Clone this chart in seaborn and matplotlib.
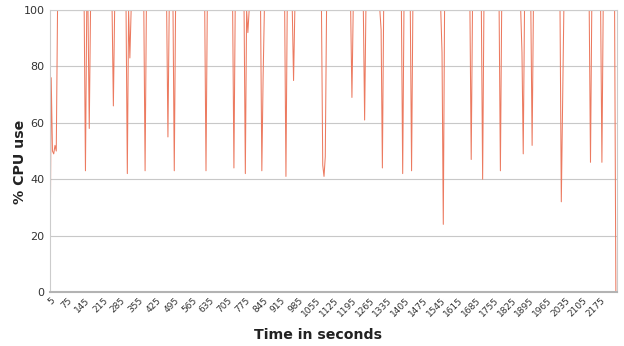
import numpy as np
import pandas as pd
import matplotlib
matplotlib.use("Agg")
import matplotlib.pyplot as plt
import seaborn as sns

# Sampling: one reading every 5 seconds
t_start, t_end, t_step = 5, 2235, 5
baseline = 100  # CPU sits at 100 % except for the dips below

# Readings that differ from 100 % (time in s, % CPU)
dip_times = [5, 10, 15, 20, 25, 30,
             145, 160, 255, 310, 320, 380, 470, 495, 620, 730,
             775, 785, 840, 845, 935, 965, 1080, 1085, 1090, 1195, 1245,
             1310, 1315, 1395, 1430, 1550, 1555, 1665, 1710, 1780, 1865,
             1870, 1905, 2020, 2025, 2135, 2180, 2235]
dip_values = [0, 76, 50, 49, 52, 50,
              43, 58, 66, 42, 83, 43, 55, 43, 43, 44,
              42, 92, 43, 76, 41, 75, 45, 41, 48, 69, 61,
              93, 44, 42, 43, 85, 24, 47, 40, 43, 85,
              49, 52, 32, 65, 46, 46, 0]

x_ticks = list(range(5, 2176, 70))
y_ticks = [0, 20, 40, 60, 80, 100]

times = np.arange(t_start, t_end + 1, t_step)
cpu = np.full(times.shape, float(baseline))
for tt, vv in zip(dip_times, dip_values):
    cpu[times == tt] = vv
df = pd.DataFrame({"time": times, "cpu": cpu})

sns.set_theme(style="white")
fig = plt.figure(figsize=(6.24, 3.46), dpi=100)
ax = fig.add_axes([0.08, 0.156, 0.909, 0.815])

sns.lineplot(data=df, x="time", y="cpu", ax=ax, color="#ec7a60",
             linewidth=0.75, estimator=None)

ax.set_xlim(t_start, 2240)
ax.set_ylim(0, 100)
ax.set_yticks(y_ticks)
ax.set_yticklabels([str(v) for v in y_ticks], fontsize=8, color="#333333")
ax.set_xticks(x_ticks)
ax.set_xticklabels([str(v) for v in x_ticks], rotation=45, ha="right",
                   rotation_mode="anchor", fontsize=6.5, color="#333333")
ax.yaxis.grid(True, color="#c8c8c8", linewidth=0.8)
ax.set_axisbelow(True)
ax.tick_params(axis="x", length=2, width=0.6, color="#b0b0b0", pad=1)
ax.tick_params(axis="y", length=0, pad=4)
for s in ax.spines.values():
    s.set_color("#cccccc")
    s.set_linewidth(0.8)
ax.spines["bottom"].set_color("#b3b3b3")
ax.spines["bottom"].set_linewidth(1.5)

ax.set_xlabel("")
ax.set_ylabel("")
fig.text(318 / 624, 1 - 335 / 346, "Time in seconds", fontsize=10.2,
         fontweight="bold", ha="center", va="center", color="#222222")
fig.text(20 / 624, 1 - 162 / 346, "% CPU use", fontsize=10.2,
         fontweight="bold", ha="center", va="center", rotation=90,
         color="#222222")

fig.savefig("out.png", dpi=100)
